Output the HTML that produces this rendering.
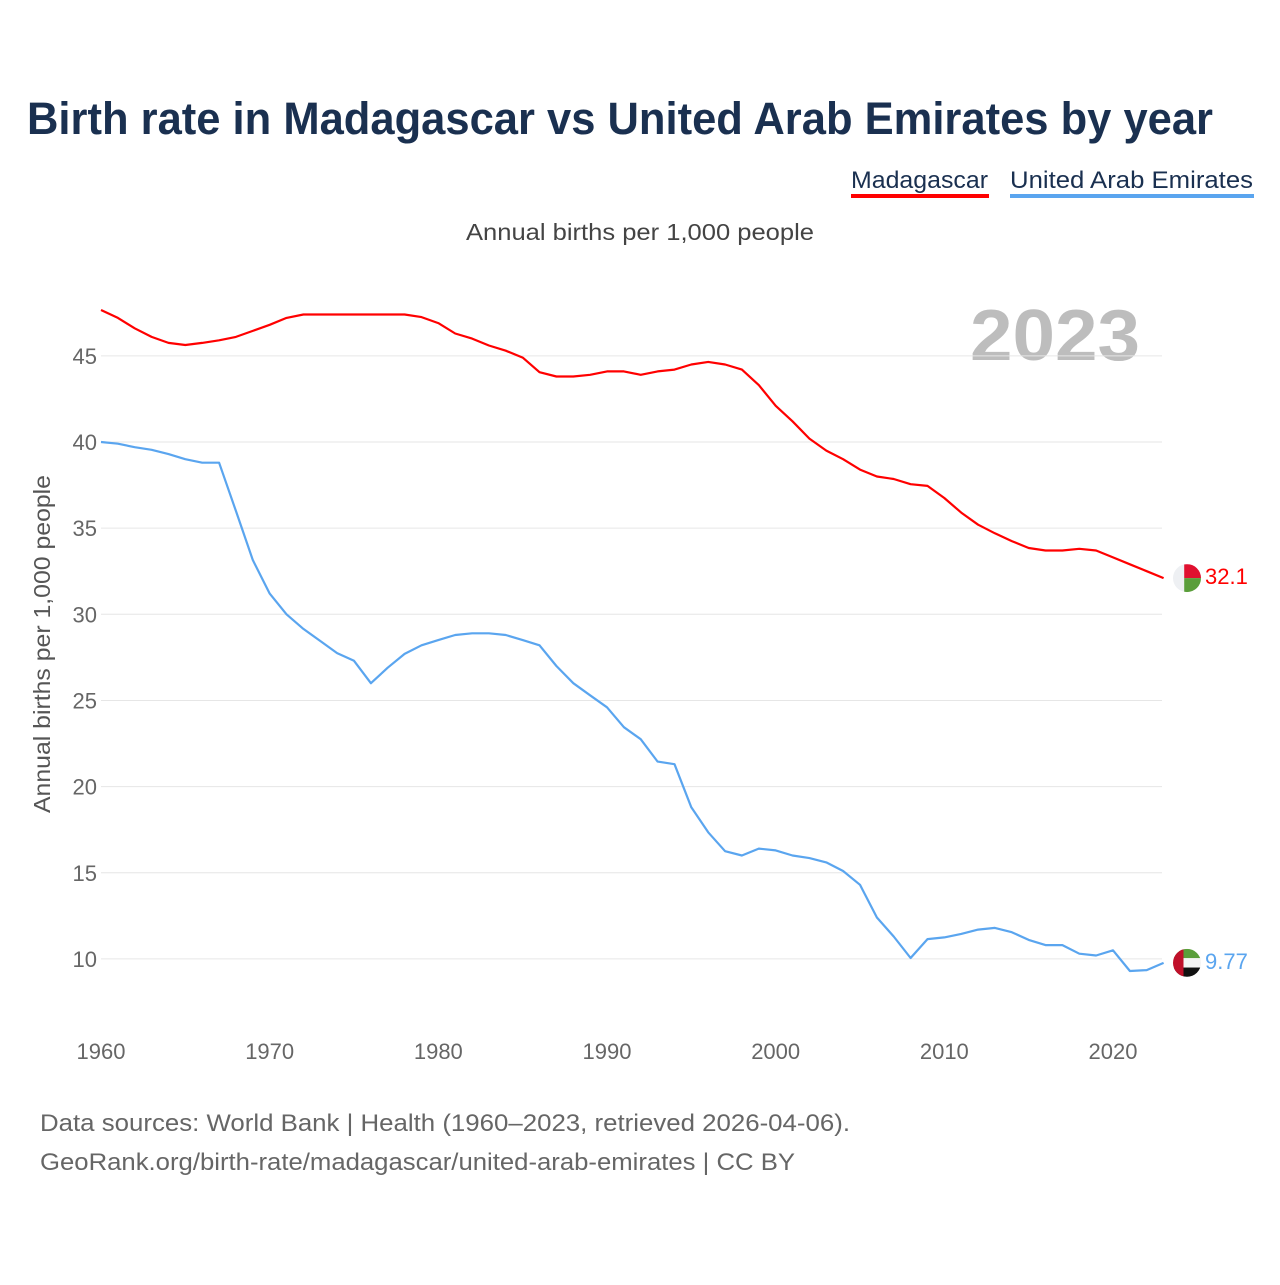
<!DOCTYPE html>
<html><head><meta charset="utf-8"><style>
body{margin:0;background:#fff;font-family:"Liberation Sans",sans-serif;}
</style></head><body>
<svg width="1280" height="1280" viewBox="0 0 1280 1280" xmlns="http://www.w3.org/2000/svg" style="font-family:'Liberation Sans',sans-serif">
<text x="27" y="134" font-size="45" font-weight="bold" fill="#1a3050" textLength="1186" lengthAdjust="spacingAndGlyphs">Birth rate in Madagascar vs United Arab Emirates by year</text>
<g><text x="851" y="188" font-size="24" fill="#1a3050" textLength="137" lengthAdjust="spacingAndGlyphs">Madagascar</text><rect x="851" y="194" width="138" height="4" fill="#ff0000"/></g>
<g><text x="1010" y="188" font-size="24" fill="#1a3050" textLength="243" lengthAdjust="spacingAndGlyphs">United Arab Emirates</text><rect x="1010" y="194" width="244" height="4" fill="#5aa5ef"/></g>
<text x="466" y="240" font-size="23" fill="#444" textLength="348" lengthAdjust="spacingAndGlyphs">Annual births per 1,000 people</text>
<text x="1140" y="360" font-size="72" font-weight="bold" fill="#bdbdbd" text-anchor="end" textLength="170" lengthAdjust="spacingAndGlyphs">2023</text>
<text transform="translate(50,813) rotate(-90)" font-size="23" fill="#555" textLength="338" lengthAdjust="spacingAndGlyphs">Annual births per 1,000 people</text>
<g id="grid"></g><g id="series"></g><g id="xt"></g>
<text x="40" y="1131" font-size="24" fill="#666" textLength="810" lengthAdjust="spacingAndGlyphs">Data sources: World Bank | Health (1960–2023, retrieved 2026-04-06).</text>
<text x="40" y="1170" font-size="24" fill="#666" textLength="755" lengthAdjust="spacingAndGlyphs">GeoRank.org/birth-rate/madagascar/united-arab-emirates | CC BY</text>
</svg>
<script>
const years=[];for(let y=1960;y<=2023;y++)years.push(y);
const madagascar=[47.66,47.2,46.6,46.1,45.75,45.63,45.75,45.9,46.1,46.45,46.8,47.2,47.4,47.4,47.4,47.4,47.4,47.4,47.4,47.25,46.9,46.3,46.0,45.6,45.3,44.9,44.05,43.8,43.8,43.9,44.1,44.1,43.9,44.1,44.2,44.5,44.65,44.5,44.2,43.3,42.1,41.2,40.2,39.5,39.0,38.4,38.0,37.85,37.55,37.45,36.75,35.9,35.2,34.7,34.25,33.85,33.7,33.7,33.8,33.7,33.3,32.9,32.5,32.1];
const uae=[40.0,39.9,39.7,39.55,39.3,39.0,38.8,38.8,36.0,33.15,31.2,30.0,29.15,28.45,27.75,27.3,26.0,26.9,27.7,28.2,28.5,28.8,28.9,28.9,28.8,28.5,28.2,27.0,26.0,25.3,24.6,23.45,22.75,21.45,21.3,18.8,17.35,16.25,16.0,16.4,16.3,16.0,15.85,15.6,15.1,14.3,12.4,11.3,10.05,11.15,11.25,11.45,11.7,11.8,11.55,11.1,10.8,10.8,10.3,10.2,10.5,9.3,9.35,9.77];
const yTicks=[10,15,20,25,30,35,40,45];
const xTicks=[1960,1970,1980,1990,2000,2010,2020];
const NS="http://www.w3.org/2000/svg";
const X=y=>101+(y-1960)*1012/60;
const Y=v=>442-(v-40)*17.23;
function mk(t,a,p){const e=document.createElementNS(NS,t);for(const k in a)e.setAttribute(k,a[k]);p.appendChild(e);return e;}
const g=document.getElementById('grid');
yTicks.forEach(v=>{
 const l=mk('line',{x1:101,x2:1162,y1:Y(v),y2:Y(v),stroke:'#e6e6e6','stroke-width':1},g);
 
 
 const t=mk('text',{x:97,y:Y(v)+8,'font-size':22,fill:'#666','text-anchor':'end'},g);t.textContent=v;
 
 
});
const xt=document.getElementById('xt');
xTicks.forEach(v=>{
 const t=mk('text',{x:X(v),y:1059,'font-size':22,fill:'#666','text-anchor':'middle'},xt);t.textContent=v;
 
 
});
const s=document.getElementById('series');
function line(data,col,name){
 const p=mk('path',{d:data.map((v,i)=>(i?'L':'M')+X(years[i]).toFixed(1)+','+Y(v).toFixed(1)).join(''),fill:'none',stroke:col,'stroke-width':2.2,'stroke-linejoin':'round'},s);
 
 
}
line(madagascar,'#ff0000','madagascar-line');
line(uae,'#5aa5ef','uae-line');
const last=years.length-1;
const cx=1187,r=14;
let cy=Y(madagascar[last]);
const f1=mk('g',{},s);


const cp1=mk('clipPath',{id:'c1'},f1);mk('circle',{cx:cx,cy:cy,r:r},cp1);
const fg1=mk('g',{'clip-path':'url(#c1)'},f1);
mk('rect',{x:cx-r,y:cy-r,width:2*r*0.4,height:2*r,fill:'#eef0f3'},fg1);
mk('rect',{x:cx-r+2*r*0.4,y:cy-r,width:2*r,height:r,fill:'#e0102f'},fg1);
mk('rect',{x:cx-r+2*r*0.4,y:cy,width:2*r,height:r,fill:'#5a9e3a'},fg1);
let t1=mk('text',{x:1205,y:cy+6,'font-size':22,fill:'#ff0000'},s);t1.textContent=madagascar[last];


cy=Y(uae[last]);
const f2=mk('g',{},s);


const cp=mk('clipPath',{id:'c2'},f2);mk('circle',{cx:cx,cy:cy,r:r},cp);
const fg2=mk('g',{'clip-path':'url(#c2)'},f2);
mk('rect',{x:cx-r,y:cy-r,width:2*r,height:2*r/3,fill:'#5a9e3a'},fg2);
mk('rect',{x:cx-r,y:cy-r+2*r/3,width:2*r,height:2*r/3,fill:'#f4f4f4'},fg2);
mk('rect',{x:cx-r,y:cy-r+4*r/3,width:2*r,height:2*r/3,fill:'#111'},fg2);
mk('rect',{x:cx-r,y:cy-r,width:r*0.75,height:2*r,fill:'#c0102a'},fg2);
let t2=mk('text',{x:1205,y:cy+6,'font-size':22,fill:'#5aa5ef'},s);t2.textContent=uae[last];


</script>
</body></html>
